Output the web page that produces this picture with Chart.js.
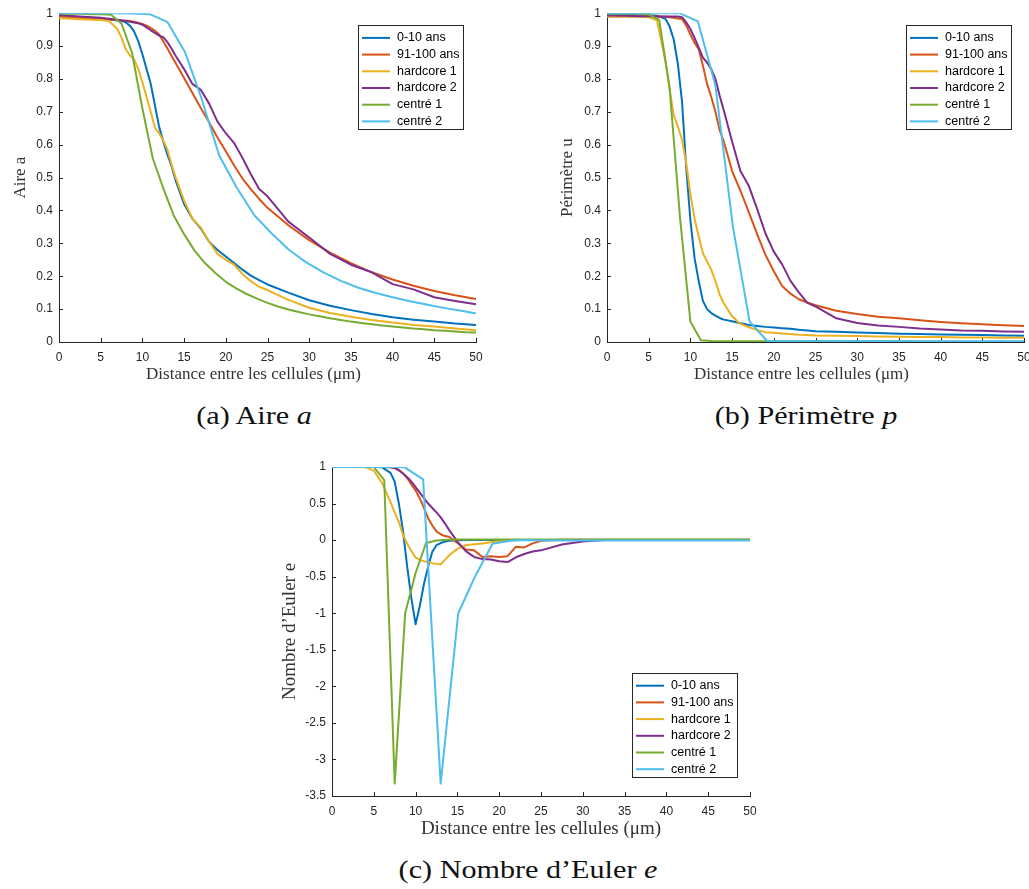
<!DOCTYPE html>
<html lang="fr">
<head>
<meta charset="UTF-8">
<title>Aire, périmètre et nombre d'Euler</title>
<script src="https://cdn.jsdelivr.net/npm/chart.js@4"></script>
<style>
  body {
    margin: 0;
    background: #fff;
    width: 1029px;
    height: 889px;
    overflow: hidden;
    position: relative;
  }
  .panel { position: absolute; }
  .caption {
    position: absolute;
    transform: translateX(-50%) scaleX(1.16);
    white-space: nowrap;
    font-family: "Liberation Serif", "DejaVu Serif", serif;
    font-size: 26px;
    line-height: 28px;
    color: #111;
  }
</style>
</head>
<body>
<div class="panel" style="left:0;top:0"><canvas id="chartAire" width="500" height="385"></canvas></div>
<div class="panel" style="left:550px;top:0"><canvas id="chartPerim" width="490" height="385"></canvas></div>
<div class="panel" style="left:270px;top:445px"><canvas id="chartEuler" width="500" height="400"></canvas></div>

<div class="caption" style="left:254px;top:402px">(a) Aire <i>a</i></div>
<div class="caption" style="left:806px;top:402px">(b) Périmètre <i>p</i></div>
<div class="caption" style="left:528px;top:856px">(c) Nombre d’Euler <i>e</i></div>

<script>
// series
const seriesNames = ['0-10 ans', '91-100 ans', 'hardcore 1', 'hardcore 2', 'centré 1', 'centré 2'];
const seriesColors = ['#0072BD', '#D95319', '#EDB120', '#7E2F8E', '#77AC30', '#4DBEEE'];

// distances (µm) - the two "centré" models are sampled differently
const xFine = [0, 2, 4, 5, 6, 7, 7.5, 8, 8.5, 9, 9.5, 10, 10.5, 11, 11.5, 12, 12.5, 13, 13.5, 14,
  15, 16, 17, 18, 19, 20, 21, 22, 23, 24, 25, 27.5, 30, 32.5, 35, 37.5, 40, 42.5, 45, 47.5, 50];
const xCentre1 = [0, 1.25, 2.5, 3.75, 5, 6.25, 7.5, 8.75, 10, 11.25, 12.5, 13.75, 15, 16.25, 17.5,
  18.75, 20, 21.25, 22.5, 23.75, 25, 26.25, 27.5, 28.75, 30, 31.25, 32.5, 33.75, 35, 36.25, 37.5,
  38.75, 40, 41.25, 42.5, 43.75, 45, 46.25, 47.5, 48.75, 50];
const xCentre2 = [0, 2.2, 4.4, 6.5, 8.7, 10.9, 13.0, 15.1, 17.1, 19.2, 21.3, 23.4, 25.5, 27.6, 29.6,
  31.7, 33.8, 35.9, 38.0, 40.0, 42.1, 44.2, 46.3, 48.4, 50];
const seriesX = [xFine, xFine, xFine, xFine, xCentre1, xCentre2];

// (a) Aire
const aireAns0_10 = [0.99, 0.988, 0.985, 0.983, 0.981, 0.978, 0.977, 0.972, 0.962, 0.945, 0.915, 0.875,
  0.83, 0.785, 0.72, 0.655, 0.61, 0.57, 0.535, 0.49, 0.42, 0.375, 0.345, 0.305, 0.28, 0.26, 0.24, 0.22,
  0.202, 0.188, 0.175, 0.15, 0.127, 0.11, 0.097, 0.085, 0.075, 0.068, 0.062, 0.056, 0.052];
const aireAns91_100 = [0.992, 0.986, 0.982, 0.981, 0.98, 0.979, 0.978, 0.977, 0.976, 0.974, 0.971, 0.967,
  0.962, 0.955, 0.947, 0.935, 0.915, 0.893, 0.87, 0.848, 0.803, 0.757, 0.712, 0.668, 0.622, 0.58, 0.537,
  0.497, 0.465, 0.435, 0.408, 0.355, 0.31, 0.272, 0.24, 0.212, 0.19, 0.171, 0.155, 0.142, 0.131];
const aireHardcore1 = [0.985, 0.982, 0.98, 0.979, 0.976, 0.952, 0.925, 0.89, 0.872, 0.86, 0.83, 0.79,
  0.745, 0.7, 0.652, 0.635, 0.613, 0.585, 0.54, 0.5, 0.43, 0.375, 0.348, 0.305, 0.268, 0.25, 0.235,
  0.207, 0.185, 0.168, 0.158, 0.128, 0.104, 0.088, 0.077, 0.067, 0.059, 0.052, 0.047, 0.041, 0.036];
const aireHardcore2 = [0.995, 0.991, 0.988, 0.986, 0.983, 0.98, 0.978, 0.976, 0.974, 0.972, 0.969, 0.965,
  0.957, 0.948, 0.94, 0.932, 0.927, 0.912, 0.892, 0.87, 0.83, 0.785, 0.767, 0.725, 0.67, 0.635, 0.605,
  0.56, 0.51, 0.465, 0.443, 0.366, 0.318, 0.268, 0.235, 0.212, 0.176, 0.16, 0.136, 0.125, 0.115];
const aireCentre1 = [0.998, 0.998, 0.998, 0.997, 0.997, 0.995, 0.968, 0.88, 0.71, 0.558, 0.468, 0.385,
  0.328, 0.278, 0.24, 0.21, 0.183, 0.163, 0.146, 0.132, 0.119, 0.108, 0.099, 0.091, 0.084, 0.078, 0.072,
  0.067, 0.062, 0.058, 0.054, 0.05, 0.047, 0.044, 0.041, 0.039, 0.036, 0.034, 0.032, 0.03, 0.029];
const aireCentre2 = [1, 1, 1, 1, 0.999, 0.997, 0.973, 0.882, 0.74, 0.568, 0.47, 0.386, 0.33, 0.28, 0.243,
  0.212, 0.186, 0.165, 0.149, 0.136, 0.124, 0.113, 0.103, 0.094, 0.087];

// (b) Périmètre
const perimAns0_10 = [0.995, 0.995, 0.994, 0.994, 0.992, 0.983, 0.96, 0.92, 0.845, 0.73, 0.53, 0.37,
  0.255, 0.185, 0.125, 0.1, 0.088, 0.08, 0.073, 0.068, 0.063, 0.057, 0.052, 0.049, 0.046, 0.044, 0.042,
  0.04, 0.037, 0.035, 0.033, 0.031, 0.029, 0.027, 0.025, 0.024, 0.023, 0.022, 0.021, 0.02, 0.019];
const perimAns91_100 = [0.99, 0.99, 0.99, 0.99, 0.99, 0.989, 0.988, 0.986, 0.984, 0.982, 0.963, 0.935,
  0.91, 0.89, 0.84, 0.785, 0.745, 0.7, 0.645, 0.61, 0.52, 0.46, 0.395, 0.328, 0.265, 0.215, 0.17, 0.147,
  0.13, 0.12, 0.112, 0.095, 0.085, 0.077, 0.072, 0.066, 0.061, 0.057, 0.054, 0.051, 0.049];
const perimHardcore1 = [0.99, 0.99, 0.99, 0.988, 0.978, 0.855, 0.77, 0.69, 0.655, 0.615, 0.545, 0.45,
  0.375, 0.32, 0.27, 0.245, 0.22, 0.185, 0.145, 0.118, 0.078, 0.055, 0.045, 0.036, 0.03, 0.028, 0.026,
  0.024, 0.022, 0.021, 0.02, 0.019, 0.018, 0.017, 0.016, 0.015, 0.015, 0.014, 0.014, 0.013, 0.013];
const perimHardcore2 = [0.993, 0.992, 0.991, 0.991, 0.99, 0.99, 0.99, 0.99, 0.99, 0.988, 0.972, 0.952,
  0.925, 0.895, 0.865, 0.85, 0.83, 0.8, 0.75, 0.705, 0.61, 0.52, 0.475, 0.405, 0.33, 0.275, 0.236, 0.186,
  0.151, 0.12, 0.108, 0.072, 0.058, 0.05, 0.046, 0.041, 0.038, 0.035, 0.034, 0.032, 0.031];
const perimCentre1 = [0.998, 0.998, 0.998, 0.998, 0.996, 0.98, 0.775, 0.38, 0.062, 0.005, 0.003, 0.002,
  0.002, 0.002, 0.002, 0.002, 0.002, 0.002, 0.002, 0.002, 0.002, 0.002, 0.002, 0.002, 0.002, 0.002,
  0.002, 0.002, 0.002, 0.002, 0.001, 0.001, 0.001, 0.001, 0.001, 0.001, 0.001, 0.001, 0.001, 0.001, 0.001];
const perimCentre2 = [1, 1, 1, 1, 1, 0.975, 0.78, 0.35, 0.062, 0.003, 0.002, 0.002, 0.002, 0.002, 0.002,
  0.002, 0.002, 0.002, 0.002, 0.002, 0.002, 0.002, 0.002, 0.002, 0.002];

// (c) Nombre d'Euler
const eulerAns0_10 = [1, 1, 1, 1, 0.995, 0.92, 0.8, 0.5, 0.12, -0.37, -0.8, -1.15, -0.9, -0.6, -0.36,
  -0.16, -0.07, -0.04, -0.02, -0.01, -0.003, 0, 0, 0, 0, 0, 0, 0, 0, 0, 0, 0, 0, 0, 0, 0, 0, 0, 0, 0, 0];
const eulerAns91_100 = [1, 1, 1, 1, 1, 0.998, 0.99, 0.96, 0.91, 0.85, 0.76, 0.68, 0.57, 0.44, 0.3, 0.2,
  0.12, 0.08, 0.055, 0.045, -0.04, -0.13, -0.14, -0.23, -0.22, -0.23, -0.22, -0.09, -0.1, -0.045, -0.01,
  0.005, 0.005, 0.005, 0.005, 0.005, 0.005, 0.005, 0.005, 0.005, 0.005];
const eulerHardcore1 = [1, 1, 0.998, 0.95, 0.78, 0.52, 0.38, 0.25, 0.07, -0.05, -0.15, -0.24, -0.27,
  -0.29, -0.3, -0.315, -0.325, -0.33, -0.27, -0.21, -0.12, -0.07, -0.055, -0.045, -0.03, -0.015, -0.005,
  0.003, 0.003, 0.003, 0.003, 0.003, 0.003, 0.003, 0.003, 0.003, 0.003, 0.003, 0.003, 0.003, 0.003];
const eulerHardcore2 = [1, 1, 1, 1, 1, 0.995, 0.985, 0.955, 0.91, 0.86, 0.8, 0.725, 0.65, 0.575, 0.5,
  0.44, 0.38, 0.31, 0.23, 0.14, -0.02, -0.15, -0.23, -0.26, -0.265, -0.29, -0.3, -0.235, -0.19, -0.155,
  -0.14, -0.06, -0.02, 0, 0, 0, 0, 0, 0, 0, 0];
const eulerCentre1 = [1, 1, 1, 1, 1, 0.82, -3.33, -1.0, -0.45, -0.04, -0.005, 0.005, 0.01, 0.01, 0.01,
  0.01, 0.01, 0.01, 0.01, 0.01, 0.01, 0.01, 0.01, 0.01, 0.01, 0.01, 0.01, 0.01, 0.01, 0.01, 0.01, 0.01,
  0.01, 0.01, 0.01, 0.01, 0.01, 0.01, 0.01, 0.01, 0.01];
const eulerCentre2 = [1, 1, 1, 1, 0.995, 0.83, -3.33, -1.0, -0.5, -0.05, -0.01, 0, -0.005, -0.005, -0.005,
  -0.005, -0.005, -0.005, -0.005, -0.005, -0.005, -0.005, -0.005, -0.005, -0.005];

const xTitle = 'Distance entre les cellules (μm)';
const sansFont = '"Liberation Sans", Arial, sans-serif';
const serifFont = '"Liberation Serif", "DejaVu Serif", serif';
const axisColor = '#262626';

// MATLAB style ticks pointing into the plot
const inwardTicks = {
  id: 'inwardTicks',
  beforeDatasetsDraw(chart) {
    const {ctx, chartArea, scales: {x, y}} = chart;
    ctx.save();
    ctx.strokeStyle = axisColor;
    ctx.lineWidth = 1;
    ctx.beginPath();
    x.ticks.forEach(t => {
      const px = Math.round(x.getPixelForValue(t.value)) + 0.5;
      ctx.moveTo(px, chartArea.bottom);
      ctx.lineTo(px, chartArea.bottom - 4);
    });
    y.ticks.forEach(t => {
      const py = Math.round(y.getPixelForValue(t.value)) + 0.5;
      ctx.moveTo(chartArea.left, py);
      ctx.lineTo(chartArea.left + 4, py);
    });
    ctx.stroke();
    ctx.restore();
  }
};

// the x label of (a) and (b) sits a bit left of the axis centre:
// move only the title, not the axis line or the clip area
const shiftXTitle = {
  id: 'shiftXTitle',
  afterLayout(chart, args, opts) {
    const s = chart.scales.x;
    if (!opts.dx || s._titleShifted) return;
    const drawTitle = s.drawTitle;
    s.drawTitle = function() {
      this.left += opts.dx;
      this.right += opts.dx;
      drawTitle.call(this);
      this.left -= opts.dx;
      this.right -= opts.dx;
    };
    s._titleShifted = true;
  }
};

// boxed legend inside the axes
const boxLegend = {
  id: 'boxLegend',
  afterDatasetsDraw(chart, args, opts) {
    const {ctx, chartArea} = chart;
    const w = 105, h = 104, rowH = 16.7;
    const x = chartArea.right - opts.right - w;
    const y = opts.bottom !== undefined ? chartArea.bottom - opts.bottom - h : chartArea.top + opts.top;
    ctx.save();
    ctx.fillStyle = '#fff';
    ctx.fillRect(x, y, w, h);
    ctx.strokeStyle = axisColor;
    ctx.lineWidth = 1;
    ctx.strokeRect(Math.round(x) + 0.5, Math.round(y) + 0.5, w, h);
    ctx.font = '12.5px ' + sansFont;
    ctx.textBaseline = 'middle';
    chart.data.datasets.forEach((ds, i) => {
      const cy = y + 12.7 + i * rowH;
      ctx.strokeStyle = ds.borderColor;
      ctx.lineWidth = 2;
      ctx.beginPath();
      ctx.moveTo(x + 4, cy);
      ctx.lineTo(x + 32, cy);
      ctx.stroke();
      ctx.fillStyle = '#000';
      ctx.fillText(ds.label, x + 39, cy);
    });
    ctx.restore();
  }
};

function makeChart(id, values, cfg) {
  return new Chart(document.getElementById(id), {
    type: 'line',
    data: {
      datasets: values.map((vals, i) => ({
        label: seriesNames[i],
        data: vals.map((v, k) => ({x: seriesX[i][k], y: v})),
        borderColor: seriesColors[i],
        backgroundColor: seriesColors[i],
        borderWidth: 2,
        borderJoinStyle: 'round',
        pointRadius: 0,
        tension: 0,
        fill: false,
        order: values.length - i
      }))
    },
    options: {
      responsive: false,
      animation: false,
      events: [],
      layout: {padding: cfg.padding},
      plugins: {
        legend: {display: false},
        tooltip: {enabled: false},
        boxLegend: cfg.legend,
        shiftXTitle: {dx: cfg.xTitleShift}
      },
      scales: {
        x: {
          type: 'linear',
          min: 0,
          max: 50,
          afterFit: s => { s.height = cfg.xHeight; },
          ticks: {stepSize: 5, autoSkip: false, maxRotation: 0, padding: 8, color: axisColor,
                  font: {family: sansFont, size: 12}},
          grid: {display: false, drawTicks: false},
          border: {display: true, color: axisColor, width: 1},
          title: {display: true, text: xTitle, color: '#333',
                  font: {family: serifFont, size: cfg.titleSize},
                  padding: {top: 0, bottom: cfg.xTitlePad}}
        },
        y: {
          type: 'linear',
          min: cfg.yMin,
          max: cfg.yMax,
          afterFit: s => { s.width = cfg.yWidth; },
          ticks: {stepSize: cfg.yStep, autoSkip: false, padding: 6, color: axisColor,
                  font: {family: sansFont, size: 12},
                  callback: v => String(+v.toFixed(2))},
          grid: {display: false, drawTicks: false},
          border: {display: true, color: axisColor, width: 1},
          title: {display: true, text: cfg.yTitle, color: '#333',
                  font: {family: serifFont, size: cfg.titleSize},
                  padding: {top: cfg.yTitlePad, bottom: 0}}
        }
      }
    },
    plugins: [inwardTicks, shiftXTitle, boxLegend]
  });
}

makeChart('chartAire',
  [aireAns0_10, aireAns91_100, aireHardcore1, aireHardcore2, aireCentre1, aireCentre2],
  {padding: {top: 13, right: 24, left: 0, bottom: 0}, yWidth: 59, xHeight: 43,
   yMin: 0, yMax: 1, yStep: 0.1, yTitle: 'Aire a', titleSize: 17, yTitlePad: 10, xTitlePad: 0,
   xTitleShift: -14, legend: {right: 13, top: 12}});

makeChart('chartPerim',
  [perimAns0_10, perimAns91_100, perimHardcore1, perimHardcore2, perimCentre1, perimCentre2],
  {padding: {top: 13, right: 16, left: 0, bottom: 0}, yWidth: 57, xHeight: 43,
   yMin: 0, yMax: 1, yStep: 0.1, yTitle: 'Périmètre u', titleSize: 17, yTitlePad: 7, xTitlePad: 0,
   xTitleShift: -14, legend: {right: 13, top: 12}});

makeChart('chartEuler',
  [eulerAns0_10, eulerAns91_100, eulerHardcore1, eulerHardcore2, eulerCentre1, eulerCentre2],
  {padding: {top: 22, right: 20, left: 0, bottom: 0}, yWidth: 62, xHeight: 49,
   yMin: -3.5, yMax: 1, yStep: 0.5, yTitle: 'Nombre d’Euler e', titleSize: 19, yTitlePad: 9, xTitlePad: 5,
   xTitleShift: 0, legend: {right: 13, bottom: 19}});
</script>
</body>
</html>
